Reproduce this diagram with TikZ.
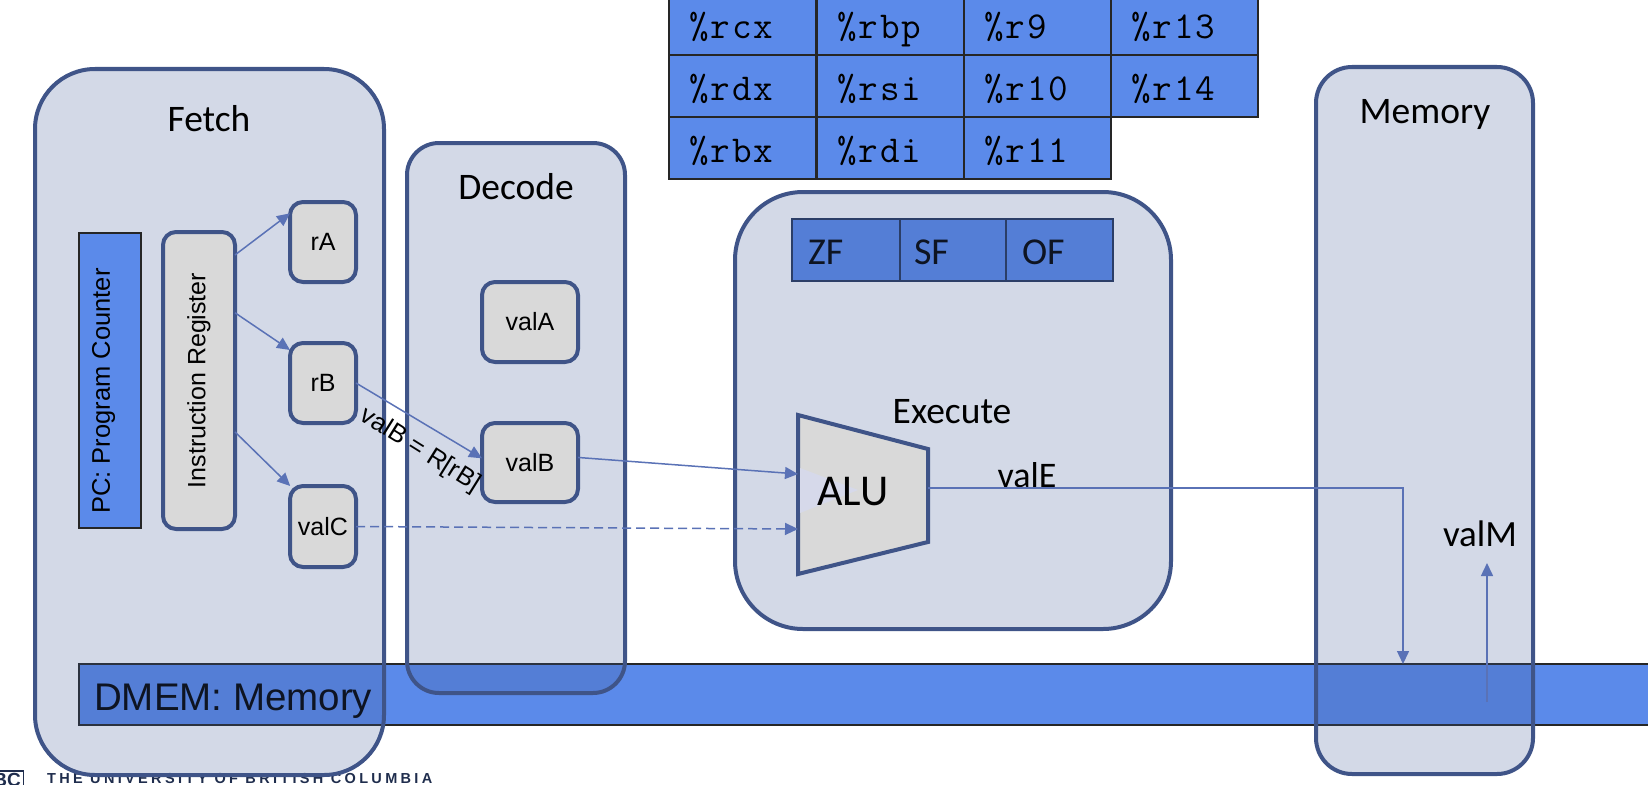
\documentclass[tikz,border=0pt]{standalone}
\usepackage{fontspec}
\usepackage{graphicx}
\setmainfont{Carlito}
\setmonofont[LetterSpace=5.5]{Latin Modern Mono}
\newfontfamily\arialfont{Liberation Sans}
\usetikzlibrary{arrows.meta}
\definecolor{boxblue}{HTML}{3F5A96}
\definecolor{boxline}{HTML}{3F5488}
\definecolor{membar}{HTML}{5B8AEA}
\definecolor{regfill}{HTML}{D9D9D9}
\definecolor{wireblue}{HTML}{5A72B6}
\definecolor{notchfill}{HTML}{D6D9EA}
\definecolor{ubcnavy}{HTML}{1F2D4D}
\newcommand{\fsize}[1]{\fontsize{#1}{#1}\selectfont}
\tikzset{
  stagebox/.style={draw=boxline,fill=boxblue,fill opacity=.23,text opacity=1,line width=4pt,outer sep=0pt,inner sep=0pt},
  regbox/.style={draw=boxline,fill=regfill,line width=4pt,rounded corners=13pt,outer sep=0pt,inner sep=0pt,font=\arialfont\fsize{25}},
  bluecell/.style={draw=black!85,fill=membar,line width=1.6pt,outer sep=0pt,inner sep=0pt},
  regcell/.style={bluecell,minimum height=62pt,text width=107pt,inner xsep=20pt,align=left,font=\ttfamily\fsize{38}},
  flagcell/.style={bluecell,draw=boxblue!60!black,minimum height=62pt,text width=75pt,inner xsep=16pt,align=left,font=\fsize{38}},
  title/.style={inner sep=0pt,font=\fsize{37.5}},
  wire/.style={draw=wireblue,line width=1.5pt,-{Triangle[length=13pt,width=12pt]}},
}
\begin{document}
\begin{tikzpicture}[x=1pt,y=-1pt]
\clip (0,0) rectangle (1648,784);

% things lying under the stages
\node[bluecell,minimum width=1600pt,minimum height=61pt] (dmem) at (879,694.5) {};
\node[inner sep=0pt,anchor=west,font=\arialfont\fsize{38.5},text=black] (dmemtext) at (94,701) {DMEM: Memory};
\node[draw=ubcnavy,line width=1.5pt,inner sep=0pt,minimum width=30pt,minimum height=30pt,anchor=north east] (ubcbox) at (24,770) {};
\node[inner sep=0pt,anchor=base east,font=\arialfont\bfseries\fsize{19},text=ubcnavy] (ubc) at (21,786) {BC};
\node[inner sep=0pt,anchor=base west,font=\arialfont\bfseries\fsize{14.5},text=ubcnavy] (ubcname) at (47,783) {\addfontfeature{LetterSpace=23}THE UNIVERSITY OF BRITISH COLUMBIA};

% flags
\node[flagcell,text width=76pt] (zf) at (846,250) {\raisebox{0pt}[31pt][3pt]{ZF}};
\node[flagcell,text width=74pt] (sf) at (953,250) {\raisebox{0pt}[31pt][3pt]{\hspace*{-2pt}SF}};
\node[flagcell,text width=75pt] (of) at (1059.5,250) {\raisebox{0pt}[31pt][3pt]{OF}};

% stages
\node[stagebox,rounded corners=60pt,minimum width=349pt,minimum height=706pt] (fetch) at (209.5,422) {};
\node[stagebox,rounded corners=32pt,minimum width=218pt,minimum height=550pt] (decode) at (516,418) {};
\node[stagebox,rounded corners=68pt,minimum width=436pt,minimum height=437pt] (execute) at (953,410.5) {};
\node[stagebox,rounded corners=36pt,minimum width=217pt,minimum height=707pt] (memory) at (1424.5,420.5) {};

\node[title] (fetchtext) at (209,119) {Fetch};
\node[title] (decodetext) at (516,187) {Decode};
\node[title] (executetext) at (952,412) {Execute};
\node[title] (memorytext) at (1425,114) {Memory};

% register file
\foreach \regname/\cx/\cy in {rcx/742.5/24,rbp/890.5/24,r9/1037.5/24,r13/1184.5/24,
  rdx/742.5/86,rsi/890.5/86,r10/1037.5/86,r14/1184.5/86,
  rbx/742.5/148,rdi/890.5/148,r11/1037.5/148}
  \node[regcell] (\regname) at (\cx,\cy) {\raisebox{0pt}[31pt][3pt]{\%\regname}};

% fetch
\node[bluecell,minimum width=62pt,minimum height=295pt] (pc) at (110,380.5) {};
\node[inner sep=0pt,rotate=90,font=\arialfont\fsize{25.5}] (pctext) at (103.5,391) {PC: Program Counter};
\node[regbox,minimum width=72pt,minimum height=297pt] (ir) at (199,380.5) {\rotatebox{90}{Instruction Register}};
\node[regbox,minimum width=66pt,minimum height=80pt] (ra) at (323,242) {rA};
\node[regbox,minimum width=66pt,minimum height=80pt] (rb) at (323,383) {rB};
\node[regbox,minimum width=66pt,minimum height=81pt] (valc) at (323,526.5) {valC};

% decode
\node[regbox,minimum width=96pt,minimum height=80pt] (vala) at (530,322) {valA};
\node[regbox,minimum width=96pt,minimum height=79pt] (valb) at (530,462.5) {valB};

% execute
\draw[draw=boxline,fill=regfill,line width=4pt] (798,415) -- (928,449) -- (928,542) -- (798,574) -- cycle;
\fill[notchfill] (800,468) -- (858,490) -- (800,513) -- cycle;
\node[inner sep=0pt,font=\fsize{44}] (alu) at (853,492) {ALU};
\coordinate (aluinb) at (798,474);
\coordinate (aluinc) at (798,529);
\coordinate (aluout) at (928,488);

\node[inner sep=0pt,font=\fsize{36}] (vale) at (1027,475) {valE};
\node[inner sep=0pt,font=\fsize{37}] (valm) at (1480,534) {valM};
\coordinate (memin) at (1403,664);
\coordinate (memout) at (1487,702);
\coordinate (valmin) at (1487,563);

\draw[wire] (ir.74) -- (ra.139);
\draw[wire] (ir.62) -- (rb.135);
\draw[wire] (ir.-55) -- (valc.129);
\draw[wire] (rb.east) -- (valb.175);
\draw[wire] (valb.6) -- (aluinb);
\draw[wire,dash pattern=on 9pt off 5pt] (valc.east) -- (aluinc);
\draw[wire] (aluout) -| (memin);
\draw[wire] (memout) -- (valmin);

\node[inner sep=0pt,rotate=-32,font=\arialfont\fsize{25.5}] (rblabel) at (420,450) {valB = R[rB]};
\end{tikzpicture}
\end{document}
